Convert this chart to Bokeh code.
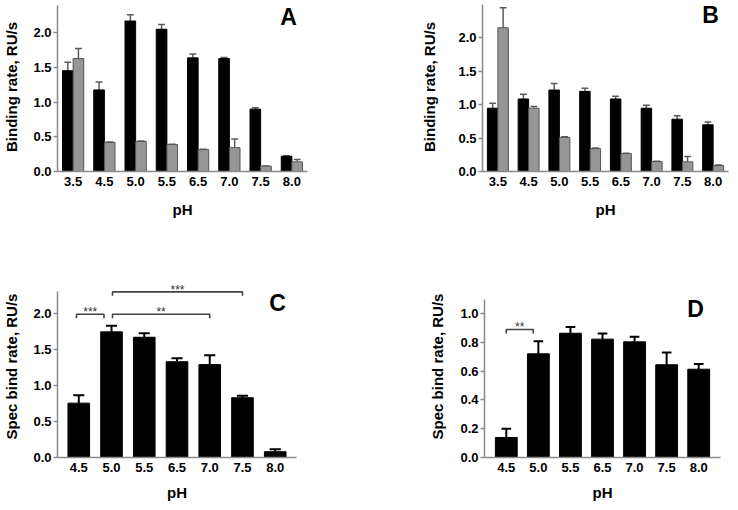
from bokeh.plotting import figure
from bokeh.layouts import column, row
from bokeh.models import Range1d, FixedTicker, PrintfTickFormatter, Label
from bokeh.embed import file_html
from bokeh.resources import INLINE

# ---------------- data ----------------
ph_ab = ["3.5", "4.5", "5.0", "5.5", "6.5", "7.0", "7.5", "8.0"]

a_black = [1.455, 1.177, 2.172, 2.053, 1.640, 1.630, 0.900, 0.220]
a_black_err = [0.120, 0.113, 0.091, 0.067, 0.054, 0.016, 0.019, 0.006]
a_gray = [1.630, 0.420, 0.435, 0.390, 0.316, 0.344, 0.077, 0.139]
a_gray_err = [0.145, 0.006, 0.006, 0.005, 0.005, 0.126, 0.004, 0.033]

b_black = [0.946, 1.084, 1.218, 1.198, 1.084, 0.946, 0.782, 0.698]
b_black_err = [0.074, 0.069, 0.099, 0.045, 0.040, 0.044, 0.050, 0.040]
b_gray = [2.149, 0.946, 0.510, 0.342, 0.267, 0.149, 0.144, 0.089]
b_gray_err = [0.297, 0.024, 0.010, 0.008, 0.005, 0.005, 0.079, 0.010]

ph_cd = ["4.5", "5.0", "5.5", "6.5", "7.0", "7.5", "8.0"]
c_vals = [0.755, 1.745, 1.670, 1.330, 1.290, 0.830, 0.080]
c_err = [0.111, 0.085, 0.057, 0.050, 0.130, 0.026, 0.036]
d_vals = [0.139, 0.720, 0.863, 0.822, 0.803, 0.644, 0.613]
d_err = [0.061, 0.088, 0.044, 0.039, 0.035, 0.085, 0.037]

# significance brackets: left category, right category, level, label
c_sig_left = ["4.5", "5.0", "5.0"]
c_sig_right = ["5.0", "7.0", "7.5"]
c_sig_level = [1.99, 1.99, 2.30]
c_sig_text = ["***", "**", "***"]

d_sig_left = ["4.5"]
d_sig_right = ["5.0"]
d_sig_level = [0.889]
d_sig_text = ["**"]

ab_ticks = [0.0, 0.5, 1.0, 1.5, 2.0]
c_ticks = [0.0, 0.5, 1.0, 1.5, 2.0]
d_ticks = [0.0, 0.2, 0.4, 0.6, 0.8, 1.0]

FONT = "Liberation Sans"
AXIS_COLOR = "#8a8a8a"


def make_panel(cats, series, width, height, mb, pad, y_end, y_top, ticks,
               ylabel, ylab_standoff, xlab_standoff, xtick_standoff,
               letter, letter_xy, brackets=None):
    n = len(cats)
    p = figure(width=width, height=height,
               x_range=Range1d(-0.5 - pad, n - 0.5 + pad),
               y_range=Range1d(0, y_end),
               output_backend="svg", toolbar_location=None,
               min_border_left=mb[0], min_border_right=mb[1],
               min_border_top=mb[2], min_border_bottom=mb[3])
    p.xgrid.visible = False
    p.ygrid.visible = False
    p.outline_line_color = None
    p.background_fill_color = "white"
    p.border_fill_color = "white"

    # x axis
    xa = p.xaxis[0]
    xa.ticker = FixedTicker(ticks=list(range(n)))
    xa.major_label_overrides = {i: c for i, c in enumerate(cats)}
    xa.major_tick_out = 0
    xa.major_tick_in = 0
    xa.minor_tick_out = 0
    xa.minor_tick_in = 0
    xa.axis_line_color = AXIS_COLOR
    xa.axis_line_width = 1.5
    xa.major_label_text_font = FONT
    xa.major_label_text_font_style = "bold"
    xa.major_label_text_font_size = "13px"
    xa.major_label_text_color = "black"
    xa.major_label_standoff = xtick_standoff
    xa.axis_label = "pH"
    xa.axis_label_text_font = FONT
    xa.axis_label_text_font_style = "bold"
    xa.axis_label_text_font_size = "15px"
    xa.axis_label_text_color = "black"
    xa.axis_label_standoff = xlab_standoff

    # y axis
    ya = p.yaxis[0]
    ya.ticker = FixedTicker(ticks=ticks)
    ya.formatter = PrintfTickFormatter(format="%.1f")
    ya.bounds = (0, y_top)
    ya.major_tick_out = 4
    ya.major_tick_in = 0
    ya.minor_tick_out = 0
    ya.minor_tick_in = 0
    ya.major_tick_line_color = AXIS_COLOR
    ya.major_tick_line_width = 1.5
    ya.axis_line_color = AXIS_COLOR
    ya.axis_line_width = 1.5
    ya.major_label_text_font = FONT
    ya.major_label_text_font_style = "bold"
    ya.major_label_text_font_size = "13px"
    ya.major_label_text_color = "black"
    ya.major_label_standoff = 2
    ya.axis_label = ylabel
    ya.axis_label_text_font = FONT
    ya.axis_label_text_font_style = "bold"
    ya.axis_label_text_font_size = "15px"
    ya.axis_label_text_color = "black"
    ya.axis_label_standoff = ylab_standoff

    for s in series:
        xs = [i + s["off"] for i in range(n)]
        tops = [v + e for v, e in zip(s["vals"], s["errs"])]
        # stems
        p.segment(x0=xs, x1=xs, y0=s["vals"], y1=tops,
                  line_color=s["err_color"], line_width=s["err_width"])
        # caps
        p.segment(x0=[x - s["cap"] for x in xs], x1=[x + s["cap"] for x in xs],
                  y0=tops, y1=tops,
                  line_color=s["err_color"], line_width=s["err_width"])
        p.vbar(x=xs, top=s["vals"], bottom=0, width=s["w"],
               fill_color=s["fill"], line_color=s["line"], line_width=1)

    if brackets is not None:
        left, right, level, text, offs, drop, gap = brackets
        for k in range(len(left)):
            x0 = cats.index(left[k]) + offs[k][0]
            x1 = cats.index(right[k]) + offs[k][1]
            y = level[k]
            p.multi_line(xs=[[x0, x0, x1, x1]], ys=[[y - drop, y, y, y - drop]],
                         line_color="#444444", line_width=1.6)
            p.text(x=[(x0 + x1) / 2], y=[y + gap], text=[text[k]],
                   text_align="center", text_baseline="alphabetic",
                   text_font={"value": FONT}, text_font_size="12px",
                   text_color="#333333")

    p.add_layout(Label(x=letter_xy[0], y=letter_xy[1], x_units="screen",
                       y_units="screen", text=letter, text_align="center",
                       text_baseline="middle", text_font=FONT,
                       text_font_style="bold", text_font_size="23px",
                       text_color="black"))
    return p


def ab_series(black, black_err, gray, gray_err):
    return [
        dict(vals=black, errs=black_err, off=-0.17, w=0.34, fill="black",
             line="black", err_color="#5a5a5a", err_width=1.5, cap=0.11),
        dict(vals=gray, errs=gray_err, off=0.17, w=0.34, fill="#969696",
             line="#555555", err_color="#5a5a5a", err_width=1.5, cap=0.11),
    ]


pA = make_panel(ph_ab, ab_series(a_black, a_black_err, a_gray, a_gray_err),
                413, 220, (57, 106, 2, 48), 0.0, 170 / 69.7, 2.4, ab_ticks,
                "Binding rate, RU/s", 10, 12, 5, "A", (231, 155))

pB = make_panel(ph_ab, ab_series(b_black, b_black_err, b_gray, b_gray_err),
                317, 220, (69, 2, 2, 48), 0.0, 170 / 67.3, 2.5, ab_ticks,
                "Binding rate, RU/s", 17, 12, 5, "B", (228, 157))

pC = make_panel(ph_cd, [dict(vals=c_vals, errs=c_err, off=0.0, w=0.66,
                             fill="black", line="black", err_color="black",
                             err_width=2, cap=0.17)],
                413, 285, (57, 117, 55, 48), 0.15, 182 / 72.0, 2.31, c_ticks,
                "Spec bind rate, RU/s", 10, 9, 5, "C", (220, 155),
                brackets=(c_sig_left, c_sig_right, c_sig_level, c_sig_text,
                          [(-0.07, -0.23), (0.03, 0.0), (0.03, 0.0)],
                          0.055, 0.03))

pD = make_panel(ph_cd, [dict(vals=d_vals, errs=d_err, off=0.0, w=0.68,
                             fill="black", line="black", err_color="black",
                             err_width=2, cap=0.15)],
                317, 285, (71, 10, 55, 48), 0.18, 182 / 144.0, 1.1, d_ticks,
                "Spec bind rate, RU/s", 11, 9, 5, "D", (211, 149),
                brackets=(d_sig_left, d_sig_right, d_sig_level, d_sig_text,
                          [(0.0, -0.16)], 0.028, 0.015))

layout = column(row(pA, pB), row(pC, pD))

open("out.html", "w").write(file_html(layout, INLINE))
